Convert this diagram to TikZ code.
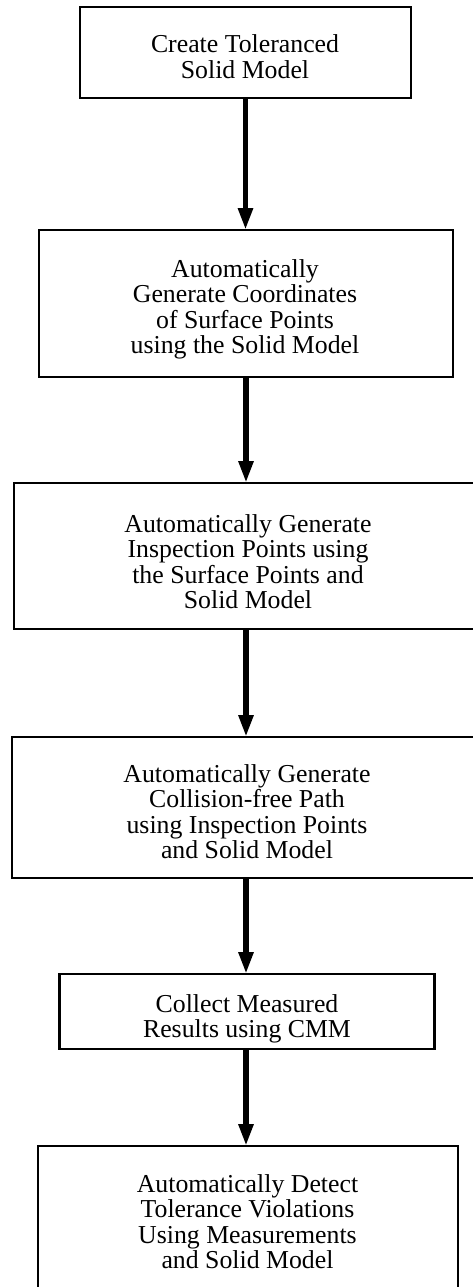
\documentclass[tikz,border=0pt]{standalone}
\usepackage{fontspec}
\setmainfont{Liberation Serif}
\usetikzlibrary{arrows.meta}
\begin{document}
\begin{tikzpicture}[x=1pt,y=-1pt,
  box/.style={draw, line width=2.6pt, inner sep=0pt, outer sep=0pt},
  txt/.style={anchor=base, inner sep=0pt, outer sep=0pt, font=\fontsize{25.8}{25.5}\selectfont},
  flow/.style={line width=5.5pt, -{Triangle[length=22pt,width=14pt]}}]
\useasboundingbox (0,0) rectangle (472,1287);
% boxes
\node[box, minimum width=331pt, minimum height=91pt]  (b1) at (245.5,52.5) {};
\node[box, minimum width=414pt, minimum height=147pt] (b2) at (246,303.5) {};
\node[box, minimum width=464pt, minimum height=146pt] (b3) at (246,556) {};
\node[box, minimum width=468pt, minimum height=141pt] (b4) at (246,807.5) {};
\node[box, minimum width=375pt, minimum height=75pt]  (b5) at (247,1011.5) {};
\node[box, minimum width=420pt, minimum height=144pt] (b6) at (248,1218) {};
% texts
\node[txt] (t1) at (245,53) {\begin{tabular}[t]{@{}c@{}}Create Toleranced\\Solid Model\end{tabular}};
\node[txt] (t2) at (245,277) {\begin{tabular}[t]{@{}c@{}}Automatically\\Generate Coordinates\\of Surface Points\\using the Solid Model\end{tabular}};
\node[txt] (t3) at (248,532) {\begin{tabular}[t]{@{}c@{}}Automatically Generate\\Inspection Points using\\the Surface Points and\\Solid Model\end{tabular}};
\node[txt] (t4) at (247,782) {\begin{tabular}[t]{@{}c@{}}Automatically Generate\\Collision-free Path\\using Inspection Points\\and Solid Model\end{tabular}};
\node[txt] (t5) at (247,1012) {\begin{tabular}[t]{@{}c@{}}Collect Measured\\Results using CMM\end{tabular}};
\node[txt] (t6) at (247.5,1192) {\begin{tabular}[t]{@{}c@{}}Automatically Detect\\Tolerance Violations\\Using Measurements\\and Solid Model\end{tabular}};
% connectors
\draw[flow] (b1.south) -- (b1.south |- b2.north);
\draw[flow] (b2.south) -- (b3.north);
\draw[flow] (b3.south) -- (b4.north);
\draw[flow] (b4.south) -- (b4.south |- b5.north);
\draw[flow] (b4.south |- b5.south) -- (b4.south |- b6.north);
\end{tikzpicture}
\end{document}
